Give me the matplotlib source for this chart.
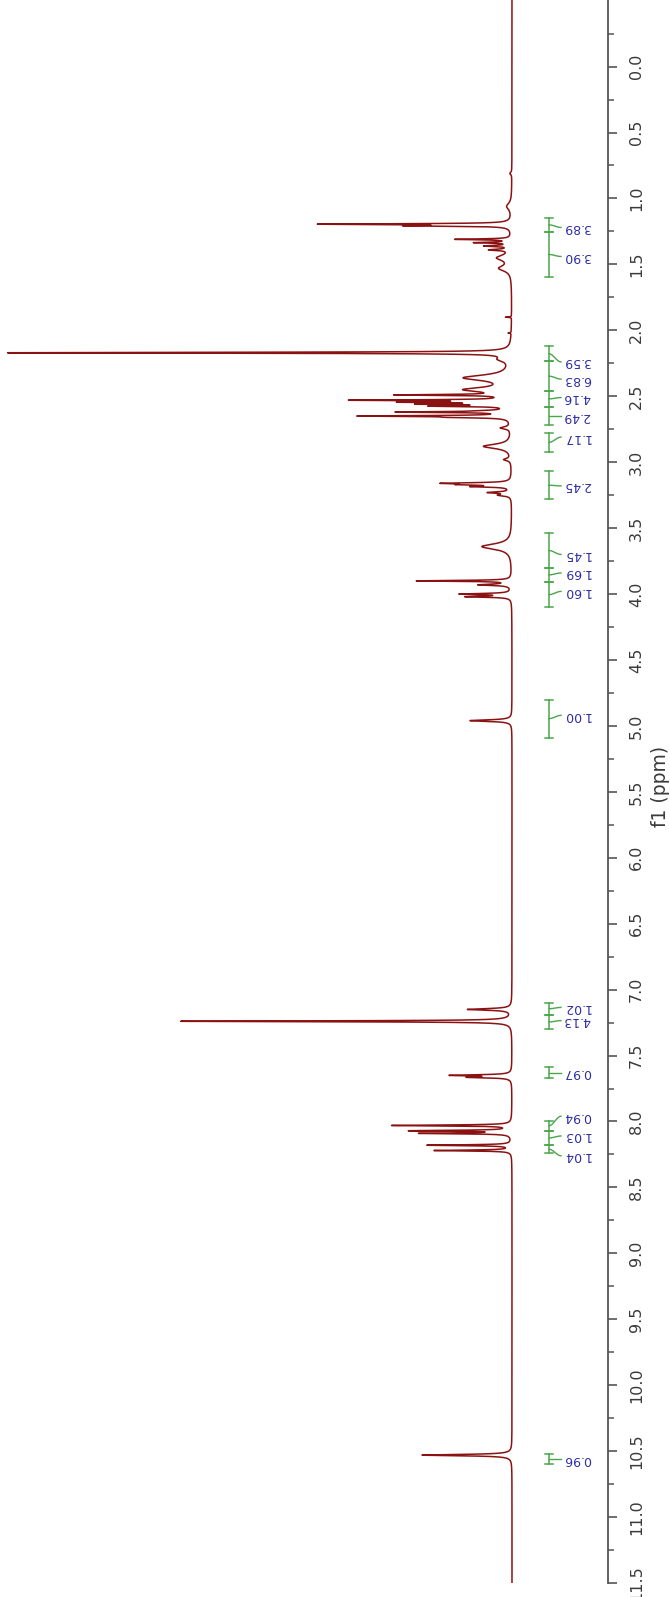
import numpy as np
import matplotlib

matplotlib.use("Agg")
import matplotlib.pyplot as plt

# 1H NMR spectrum, drawn rotated: ppm runs down the page, peaks point left.
# Peaks: shift (ppm), height (px from baseline), half width (ppm)
peak_ppm = [0.81, 1.06, 1.195, 1.207, 1.31, 1.335, 1.36, 1.39, 1.45, 1.53,
            1.90, 2.02, 2.17, 2.22, 2.36, 2.45, 2.49, 2.53, 2.545, 2.56,
            2.575, 2.61, 2.62, 2.65, 2.66, 2.74, 2.88, 2.98, 3.16, 3.17,
            3.185, 3.23, 3.25, 3.64, 3.90, 3.93, 4.00, 4.02, 4.96, 7.15,
            7.24, 7.65, 7.665, 8.03, 8.07, 8.09, 8.18, 8.22, 10.53]
peak_height = [2, 5, 185, 90, 55, 35, 25, 20, 14, 12,
               6, 3, 502, 10, 46, 44, 105, 150, 95, 80,
               72, 15, 107, 142, 45, 10, 28, 7, 62, 40,
               35, 22, 12, 30, 94, 32, 50, 44, 42, 44,
               331, 59, 40, 119, 99, 89, 84, 77, 90]
peak_hwhm = [0.01, 0.03, 0.004, 0.004, 0.004, 0.004, 0.005, 0.006, 0.025, 0.025,
             0.002, 0.002, 0.004, 0.02, 0.025, 0.02, 0.004, 0.004, 0.004, 0.004,
             0.004, 0.006, 0.004, 0.004, 0.005, 0.01, 0.02, 0.01, 0.005, 0.005,
             0.005, 0.006, 0.008, 0.025, 0.004, 0.006, 0.005, 0.005, 0.007, 0.007,
             0.004, 0.005, 0.005, 0.004, 0.004, 0.004, 0.004, 0.004, 0.006]

# integrals: region start / end (ppm), label position (ppm), value
integral_start = [1.148, 1.252, 2.12, 2.235, 2.46, 2.58, 2.78, 3.07, 3.54, 3.80,
                  3.91, 4.80, 7.10, 7.19, 7.59, 7.995, 8.07, 8.18, 10.52]
integral_end = [1.252, 1.598, 2.235, 2.46, 2.58, 2.72, 2.92, 3.28, 3.80, 3.91,
                4.10, 5.09, 7.19, 7.30, 7.67, 8.07, 8.18, 8.24, 10.60]
integral_label_ppm = [1.22, 1.44, 2.24, 2.37, 2.51, 2.65, 2.81, 3.18, 3.70, 3.84,
                      3.98, 4.92, 7.135, 7.235, 7.63, 7.96, 8.11, 8.26, 10.56]
integral_values = ["3.89", "3.90", "3.59", "6.83", "4.16", "2.49", "1.17", "2.45", "1.45", "1.69",
                   "1.60", "1.00", "1.02", "4.13", "0.97", "0.94", "1.03", "1.04", "0.96"]

major_ticks = [i * 0.5 for i in range(24)]
minor_ticks = [i * 0.5 - 0.25 for i in range(24)]
tick_labels = [f"{t:.1f}" for t in major_ticks]

SPEC_COLOR = "#8b1212"
INT_COLOR = "#4aa64a"
LABEL_COLOR = "#2c2ca6"
AXIS_COLOR = "#555555"

# layout (intensity units = pixels left of the baseline)
BAR_X = -37
CAP_HALF = 3.9
CONNECT_END = -49
LABEL_X = -51

fig = plt.figure(figsize=(6.70, 15.97), dpi=100)
ax = fig.add_axes([0, 14 / 1597, 607.7 / 670, 1583 / 1597])

ppm = np.linspace(-0.6, 11.6, 60000)
spec = np.zeros_like(ppm)
for p, h, w in zip(peak_ppm, peak_height, peak_hwhm):
    spec += h * w**2 / ((ppm - p) ** 2 + w**2)
ax.plot(spec, ppm, color=SPEC_COLOR, linewidth=1.1, solid_joinstyle="round")

# integral bars, caps, connectors and labels
for start, end, lab, val in zip(integral_start, integral_end, integral_label_ppm, integral_values):
    ax.plot([BAR_X, BAR_X], [start, end], color=INT_COLOR, linewidth=1.1)
    for yy in (start, end):
        ax.plot([BAR_X + CAP_HALF, BAR_X - CAP_HALF], [yy, yy], color=INT_COLOR, linewidth=1.1)
    mid = (start + end) / 2
    t = np.linspace(0, 1, 30)
    s = t * t * (3 - 2 * t)
    ax.plot(BAR_X + (CONNECT_END - BAR_X) * t, mid + (lab - mid) * s,
            color=INT_COLOR, linewidth=1.0)
    ax.text(LABEL_X, lab, val, rotation=180, ha="left", va="center",
            fontsize=9, color=LABEL_COLOR)

ax.set_xlim(512, -95.7)
ax.set_ylim(11.49, -0.505)

for side in ("left", "top", "bottom"):
    ax.spines[side].set_visible(False)
ax.spines["right"].set_color(AXIS_COLOR)
ax.spines["right"].set_linewidth(1.3)
ax.set_xticks([])
ax.yaxis.tick_right()
ax.set_yticks(major_ticks)
ax.set_yticks(minor_ticks, minor=True)
ax.set_yticklabels(tick_labels)
ax.tick_params(axis="y", which="major", direction="out", length=6.5, width=1.2,
               color=AXIS_COLOR, labelsize=11.5, labelcolor="#3a3a3a", pad=9,
               labelrotation=90)
ax.tick_params(axis="y", which="minor", direction="out", length=4.3, width=1.1,
               color=AXIS_COLOR)
for lbl in ax.get_yticklabels():
    lbl.set_verticalalignment("center")
ax.patch.set_visible(False)

fig.text(660 / 670, 1 - 786 / 1597, "f1 (ppm)", rotation=90, ha="center", va="center",
         fontsize=13.5, color="#3a3a3a")

fig.savefig("out.png", dpi=100)
